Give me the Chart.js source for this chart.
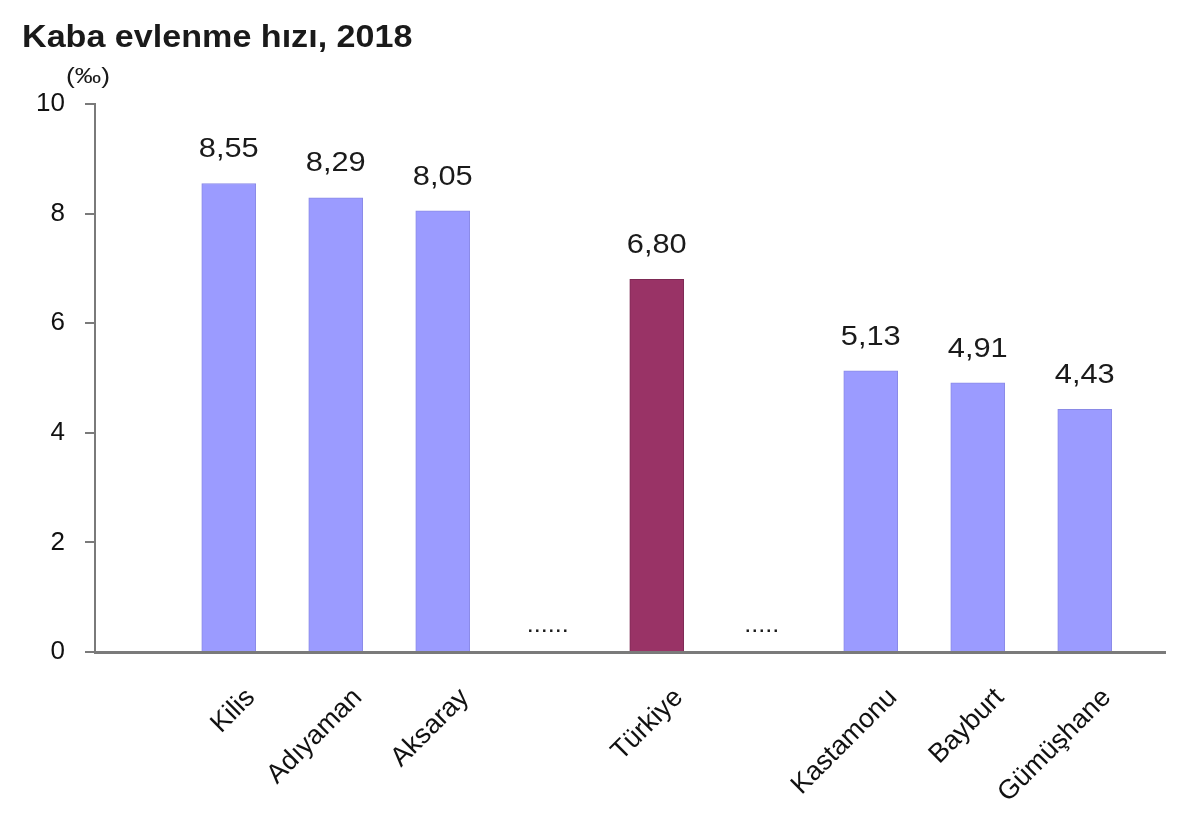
<!DOCTYPE html>
<html>
<head>
<meta charset="utf-8">
<script src="https://cdn.jsdelivr.net/npm/chart.js@4.4.1/dist/chart.umd.min.js"></script>
<style>
html,body{margin:0;padding:0;background:#fff;}
#wrap{width:1200px;height:834px;position:relative;}
</style>
</head>
<body>
<div id="wrap"><canvas id="c" width="1200" height="834"></canvas></div>
<script>
const titleText = 'Kaba evlenme hızı, 2018';
const unitText = '(‰)';
const categories = ['Kilis', 'Adıyaman', 'Aksaray', '', 'Türkiye', '', 'Kastamonu', 'Bayburt', 'Gümüşhane'];
const values = [8.55, 8.29, 8.05, null, 6.80, null, 5.13, 4.91, 4.43];
const gapMarks = [null, null, null, '......', null, '.....', null, null, null];
const barColors = ['#9b9bff', '#9b9bff', '#9b9bff', '#9b9bff', '#993366', '#9b9bff', '#9b9bff', '#9b9bff', '#9b9bff'];
const yTicks = [0, 2, 4, 6, 8, 10];

const FONT = '"Liberation Sans", Arial, sans-serif';

function stretchText(ctx, text, x, y, sx) {
  ctx.save();
  ctx.translate(x, y);
  ctx.scale(sx, 1);
  ctx.fillText(text, 0, 0);
  ctx.restore();
}

const labelPlugin = {
  id: 'labels',
  afterDatasetsDraw(chart) {
    const ctx = chart.ctx;
    const meta = chart.getDatasetMeta(0);
    const y0 = chart.scales.y.getPixelForValue(0);
    ctx.save();
    ctx.fillStyle = '#1a1a1a';
    ctx.textAlign = 'center';
    ctx.textBaseline = 'middle';
    meta.data.forEach((el, i) => {
      const x = chart.scales.x.getPixelForValue(i);
      if (values[i] !== null) {
        ctx.font = '28px ' + FONT;
        stretchText(ctx, values[i].toFixed(2).replace('.', ','), x, el.y - 34, 1.1);
      } else if (gapMarks[i]) {
        ctx.font = '24px ' + FONT;
        stretchText(ctx, gapMarks[i], x - 2, y0 - 27, 1.05);
      }
    });
    ctx.restore();
  },
  afterDraw(chart) {
    const ctx = chart.ctx;
    ctx.save();
    ctx.fillStyle = '#1a1a1a';
    ctx.textAlign = 'left';
    ctx.textBaseline = 'middle';
    ctx.font = 'bold 31px ' + FONT;
    stretchText(ctx, titleText, 22, 38, 1.1);
    ctx.font = '22px ' + FONT;
    stretchText(ctx, unitText, 66, 77, 1.2);
    ctx.restore();
  }
};

new Chart(document.getElementById('c'), {
  type: 'bar',
  data: {
    datasets: [{
      data: categories.map((c, i) => ({ x: i, y: values[i] })),
      backgroundColor: barColors,
      borderColor: barColors.map(c => c === '#993366' ? '#7d2a55' : '#8a8ae6'),
      borderWidth: 1,
      barThickness: 54
    }]
  },
  options: {
    responsive: false,
    animation: false,
    layout: { padding: { top: 104, right: 35, left: 0, bottom: 0 } },
    plugins: { legend: { display: false }, tooltip: { enabled: false }, title: { display: false } },
    scales: {
      x: {
        type: 'linear',
        offset: false,
        min: -1.25,
        max: 8.75,
        afterBuildTicks: (s) => { s.ticks = categories.map((c, i) => ({ value: i })); },
        afterFit: (s) => { s.height = 182; },
        grid: { display: false, offset: false },
        border: { display: true, color: '#7a7a7a', width: 3 },
        ticks: {
          autoSkip: false,
          minRotation: 45,
          maxRotation: 45,
          padding: 22,
          labelOffset: 22,
          color: '#111',
          font: { family: FONT, size: 27 },
          callback: (v) => categories[v] !== undefined ? categories[v] : ''
        }
      },
      y: {
        min: 0,
        max: 10,
        afterBuildTicks: (s) => { s.ticks = yTicks.map(v => ({ value: v })); },
        afterFit: (s) => { s.width = 95; },
        grid: { drawOnChartArea: false, drawTicks: true, tickLength: 10, color: '#7a7a7a', lineWidth: 2 },
        border: { display: true, color: '#7a7a7a', width: 2 },
        ticks: {
          padding: 20,
          color: '#111',
          font: { family: FONT, size: 26 },
          callback: (v) => String(v)
        }
      }
    }
  },
  plugins: [labelPlugin]
});
</script>
</body>
</html>
